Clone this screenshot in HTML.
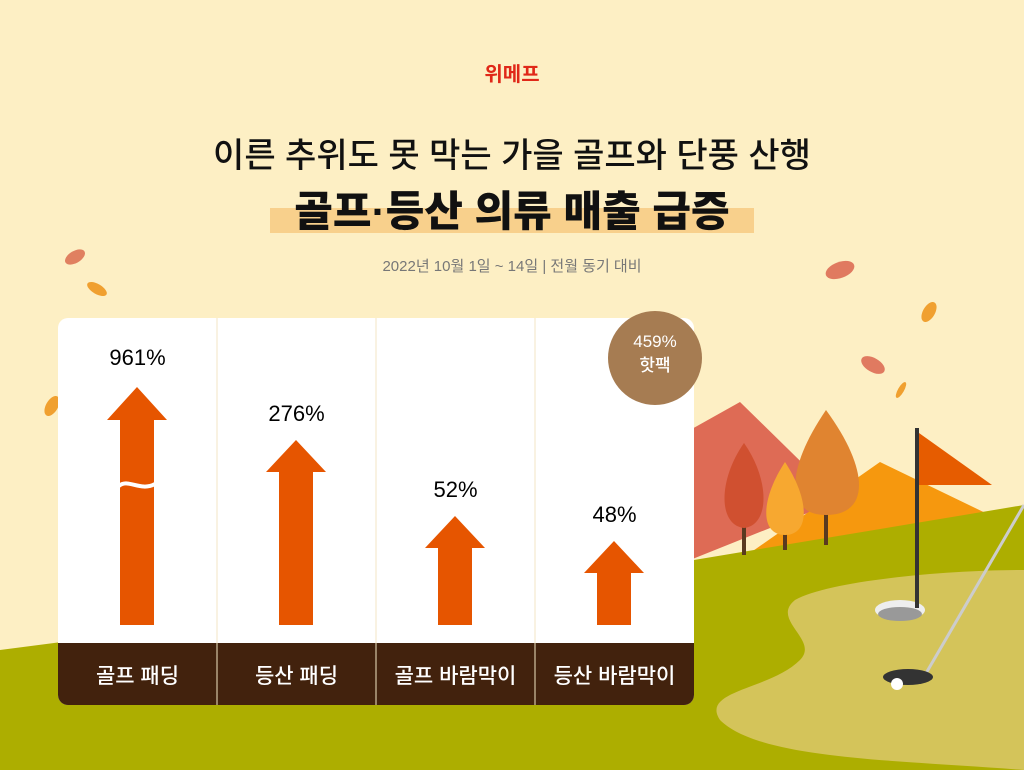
<!DOCTYPE html>
<html><head><meta charset="utf-8"><style>
body{margin:0;width:1024px;height:770px;overflow:hidden;background:#fdefc4;font-family:"Liberation Sans","Noto Sans CJK KR",sans-serif;}
.t{position:absolute;left:0;width:1024px;text-align:center;}
</style></head><body>
<svg width="1024" height="770" style="position:absolute;left:0;top:0">
<rect width="1024" height="770" fill="#fdefc4"/>
<rect x="270" y="208" width="484" height="25" fill="#f8d08c"/>
<polygon points="690,430 740,402 840,500 690,560" fill="#de6b55"/>
<polygon points="740,560 880,462 1000,520 1024,520 1024,560" fill="#f6980e"/>
<path d="M0,650 L694,560 L1024,505 L1024,770 L0,770 Z" fill="#adae00"/>
<path d="M1024,570 C950,570 830,580 795,600 C770,620 820,640 800,660 C770,690 700,690 720,720 C760,760 900,760 1024,770 Z" fill="#d4c45a"/>
<ellipse cx="900" cy="610" rx="25" ry="10" fill="#eee"/><ellipse cx="900" cy="614" rx="22" ry="7" fill="#999"/>
<rect x="915" y="428" width="4" height="180" fill="#333"/>
<polygon points="919,433 992,485 919,485" fill="#e65c00"/>
<line x1="1024" y1="505" x2="925" y2="675" stroke="#ccc" stroke-width="3"/>
<ellipse cx="908" cy="677" rx="25" ry="8" fill="#333"/><circle cx="897" cy="684" r="6" fill="#fff"/>
<rect x="742" y="500" width="4" height="55" fill="#5a3a20"/><path d="M744,443 C770,480 770,525 744,528 C718,525 718,480 744,443Z" fill="#d05030"/>
<rect x="824" y="500" width="4" height="45" fill="#5a3a20"/><path d="M826,410 C870,470 870,515 826,515 C785,515 785,470 826,410Z" fill="#e08430"/>
<rect x="783" y="520" width="4" height="30" fill="#5a3a20"/><path d="M785,462 C810,500 810,535 785,535 C760,535 760,500 785,462Z" fill="#f7a830"/>
<ellipse cx="75" cy="257" rx="11" ry="6" fill="#e08060" transform="rotate(-30 75 257)"/>
<ellipse cx="97" cy="289" rx="11" ry="5" fill="#f0a030" transform="rotate(30 97 289)"/>
<ellipse cx="52" cy="406" rx="6" ry="11" fill="#f0a030" transform="rotate(30 52 406)"/>
<ellipse cx="840" cy="270" rx="15" ry="8" fill="#e07a60" transform="rotate(-20 840 270)"/>
<ellipse cx="929" cy="312" rx="6" ry="11" fill="#f0a030" transform="rotate(30 929 312)"/>
<ellipse cx="873" cy="365" rx="13" ry="7" fill="#e07a60" transform="rotate(30 873 365)"/>
<ellipse cx="901" cy="390" rx="3" ry="9" fill="#f0a030" transform="rotate(30 901 390)"/>
<rect x="58" y="318" width="636" height="387" rx="10" fill="#fff"/>
<path d="M58,643 H694 V695 a10,10 0 0 1 -10,10 H68 a10,10 0 0 1 -10,-10Z" fill="#42220d"/>
<g stroke="#f3e6c4" stroke-width="1"><line x1="217" y1="318" x2="217" y2="705"/><line x1="376" y1="318" x2="376" y2="705"/><line x1="535" y1="318" x2="535" y2="705"/></g>
<g fill="#e65500">
<polygon points="137,387 167,420 154,420 154,625 120,625 120,420 107,420"/>
<polygon points="296,440 326,472 313,472 313,625 279,625 279,472 266,472"/>
<polygon points="455,516 485,548 472,548 472,625 438,625 438,548 425,548"/>
<polygon points="614,541 644,573 631,573 631,625 597,625 597,573 584,573"/>
</g>
<path d="M119,486 C128,478 140,492 155,484" stroke="#fff" stroke-width="4" fill="none"/>
<circle cx="655" cy="358" r="47" fill="#a67c52"/>
</svg>
<div class="t" style="top:58px;font-size:20px;font-weight:bold;color:#e02818">위메프</div>
<div class="t" style="top:128px;font-size:34px;font-weight:500;color:#111">이른 추위도 못 막는 가을 골프와 단풍 산행</div>
<div class="t" style="top:178px;font-size:42px;font-weight:900;color:#111">골프·등산 의류 매출 급증</div>
<div class="t" style="top:255px;font-size:15px;color:#777">2022년 10월 1일 ~ 14일 | 전월 동기 대비</div>
<div style="position:absolute;left:608px;top:330px;width:94px;text-align:center;color:#fff;font-size:17px;font-weight:500;line-height:24px">459%<br>핫팩</div>
<div style="position:absolute;left:58px;top:345px;width:159px;text-align:center;font-size:22px;font-weight:500">961%</div>
<div style="position:absolute;left:217px;top:401px;width:159px;text-align:center;font-size:22px;font-weight:500">276%</div>
<div style="position:absolute;left:376px;top:477px;width:159px;text-align:center;font-size:22px;font-weight:500">52%</div>
<div style="position:absolute;left:535px;top:502px;width:159px;text-align:center;font-size:22px;font-weight:500">48%</div>
<div style="position:absolute;left:58px;top:660px;width:159px;text-align:center;font-size:21px;font-weight:500;color:#fff">골프 패딩</div>
<div style="position:absolute;left:217px;top:660px;width:159px;text-align:center;font-size:21px;font-weight:500;color:#fff">등산 패딩</div>
<div style="position:absolute;left:376px;top:660px;width:159px;text-align:center;font-size:21px;font-weight:500;color:#fff">골프 바람막이</div>
<div style="position:absolute;left:535px;top:660px;width:159px;text-align:center;font-size:21px;font-weight:500;color:#fff">등산 바람막이</div>
</body></html>
